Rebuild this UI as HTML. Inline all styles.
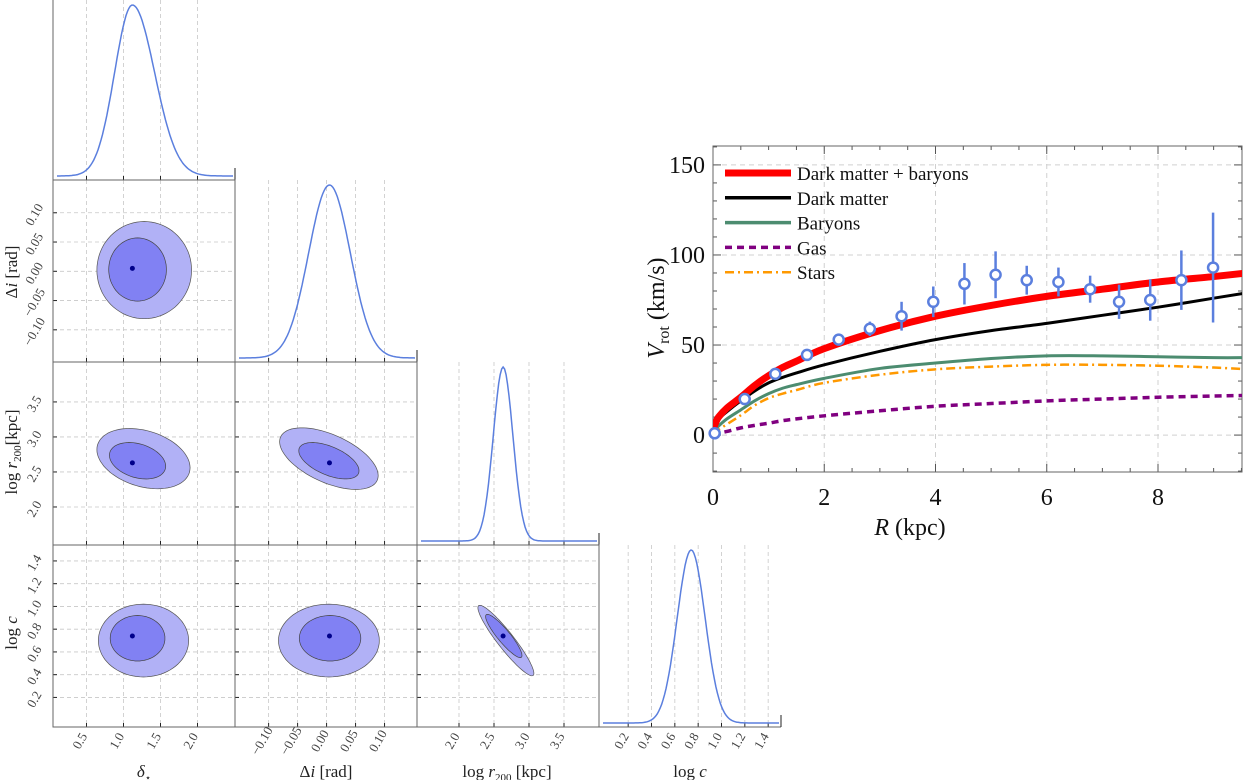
<!DOCTYPE html>
<html><head><meta charset="utf-8"><style>
html,body{margin:0;padding:0;background:#fff;}
svg{display:block;font-family:"Liberation Serif",serif;}
</style></head><body>
<svg id="fig" width="1243" height="780" viewBox="0 0 1243 780" xmlns="http://www.w3.org/2000/svg">
<g id="corner"></g>
<g id="rot"></g>
</svg>
<script>
// ===== Corner plot data =====
const paramNames = ["delta_star","delta_i","log_r200","log_c"];
const bestFit = [1.12, 0.005, 2.63, 0.74];
const margMean = [1.12, 0.005, 2.63, 0.74];
const margSigL = [0.24, 0.036, 0.14, 0.12];
const margSigR = [0.30, 0.036, 0.14, 0.12];
const tickVals0 = [0.5, 1.0, 1.5, 2.0];
const tickVals1 = [-0.10, -0.05, 0.00, 0.05, 0.10];
const tickVals2 = [2.0, 2.5, 3.0, 3.5];
const tickVals3 = [0.2, 0.4, 0.6, 0.8, 1.0, 1.2, 1.4];
const tickLabels0 = ["0.5","1.0","1.5","2.0"];
const tickLabels1 = ["\u22120.10","\u22120.05","0.00","0.05","0.10"];
const tickLabels2 = ["2.0","2.5","3.0","3.5"];
const tickLabels3 = ["0.2","0.4","0.6","0.8","1.0","1.2","1.4"];
// contours: [row, col, cx, cy, sx, sy, rho] (outer = 2 sigma, inner = 1 sigma)
const outerContours = [
 [1,0, 1.28,0.002, 0.64,0.083, 0.0],
 [2,0, 1.27,2.69, 0.63,0.43, -0.3],
 [2,1, 0.004,2.69, 0.085,0.44, -0.55],
 [3,0, 1.27,0.70, 0.61,0.32, 0.0],
 [3,1, 0.004,0.70, 0.087,0.32, 0.0],
 [3,2, 2.67,0.70, 0.40,0.31, -0.93]
];
const innerContours = [
 [1,0, 1.19,0.003, 0.39,0.054, 0.0],
 [2,0, 1.19,2.66, 0.38,0.26, -0.3],
 [2,1, 0.004,2.66, 0.052,0.26, -0.55],
 [3,0, 1.19,0.72, 0.37,0.20, 0.0],
 [3,1, 0.006,0.72, 0.053,0.20, 0.0],
 [3,2, 2.64,0.74, 0.26,0.19, -0.9]
];
// ===== Rotation curve data =====
const obsR = [0.03,0.57,1.12,1.69,2.26,2.82,3.39,3.96,4.52,5.08,5.64,6.21,6.78,7.30,7.86,8.42,8.99];
const obsV = [1,20,34,44.5,53,59,66,74,84,89,86,85,81,74,75,86,93];
const obsErr = [1,2,2,2,2,4,8,8.5,11.5,13,8,8,7.5,9.5,11.5,16.5,30.5];
const modelR = [0,0.05,0.1,0.25,0.5,0.75,1,1.25,1.5,2,3,4,5,6,7,8,9,9.6];
const vTotal = [3,7,10,15,21,27.5,33,37.5,41,48,58,66,72,77,81,85,88,90];
const vDM = [3,6.5,9,13,19,24.5,29,32,34.5,39,46.5,53,58,62,66.5,71,76,79];
const vBaryons = [1,3,5,9,14,19,23,26,28,31.5,37,40,42.5,44,44,43.5,43,43];
const vStars = [0.5,2,3,6,11,16.5,20.5,23,25,29,33.5,36.5,38,39,39,38.5,37.5,36.5];
const vGas = [0,0.5,1,2,4,5.4,6.6,8,9,10.7,13.5,16,17.5,19,20,21,21.7,22];
const xTicksR = [0,2,4,6,8];
const yTicksV = [0,50,100,150];
const legendLabels = ["Dark matter + baryons","Dark matter","Baryons","Gas","Stars"];

const NS="http://www.w3.org/2000/svg";
function mk(tag, attrs, parent){const e=document.createElementNS(NS,tag);for(const k in attrs)e.setAttribute(k,attrs[k]);if(parent)parent.appendChild(e);return e;}

// ---- corner geometry ----
const colX=[[53,235],[235,417],[417,599],[599,781]];
const rowY=[[0,180],[180,362],[362,545],[545,727]];
const xDom=[[0.047,2.507],[-0.158,0.156],[1.40,4.0],[-0.05,1.51]];
const yDom=[null,[-0.155,0.156],[1.457,4.07],[-0.06,1.54]];
const tickSets=[tickVals0,tickVals1,tickVals2,tickVals3];
const labelSets=[tickLabels0,tickLabels1,tickLabels2,tickLabels3];
function sx(c,v){const d=xDom[c],p=colX[c];return p[0]+(v-d[0])/(d[1]-d[0])*(p[1]-p[0]);}
function sy(r,v){const d=yDom[r],p=rowY[r];return p[1]-(v-d[0])/(d[1]-d[0])*(p[1]-p[0]);}

const corner=document.getElementById('corner');
for(let r=0;r<4;r++){for(let c=0;c<=r;c++){
  const g=mk('g',{},corner);
  
  
  const [x0,x1]=colX[c],[y0,y1]=rowY[r];
  tickSets[c].forEach(v=>{const x=sx(c,v);mk('line',{x1:x,x2:x,y1:y0,y2:y1,stroke:'#c8c8c8','stroke-width':0.8,'stroke-dasharray':'4,3'},g);
    mk('line',{x1:x,x2:x,y1:y1,y2:y1-4,stroke:'#222','stroke-width':1},g);});
  if(r!==c){tickSets[r].forEach(v=>{const y=sy(r,v);mk('line',{x1:x0,x2:x1,y1:y,y2:y,stroke:'#c8c8c8','stroke-width':0.8,'stroke-dasharray':'4,3'},g);
    mk('line',{x1:x0,x2:x0+4,y1:y,y2:y,stroke:'#222','stroke-width':1},g);});
    mk('rect',{x:x0,y:y0,width:x1-x0,height:y1-y0,fill:'none',stroke:'#666','stroke-width':1},g);
  } else {
    mk('line',{x1:x0,x2:x0,y1:y0,y2:y1,stroke:'#666','stroke-width':1},g);
    mk('line',{x1:x0,x2:x1,y1:y1,y2:y1,stroke:'#666','stroke-width':1},g);
    mk('line',{x1:x1,x2:x1,y1:y1,y2:y1-12,stroke:'#222','stroke-width':1},g);
    const base=y1-4, peak=y0+5; let d='';
    for(let i=0;i<=120;i++){const px=x0+4+(x1-2-x0-4)*i/120;const dm=xDom[c];const v=dm[0]+(px-colX[c][0])/(colX[c][1]-colX[c][0])*(dm[1]-dm[0]);
      const s=v<margMean[c]?margSigL[c]:margSigR[c];const f=Math.exp(-0.5*Math.pow((v-margMean[c])/s,2));
      d+=(i?'L':'M')+px.toFixed(1)+','+(base-(base-peak)*f).toFixed(1);}
    const p=mk('path',{d:d,fill:'none',stroke:'#5b7fde','stroke-width':1.5},g);
    
    
  }
}}
function ellipsePath(ct){const [r,c,cx,cy,ax,ay,rho]=ct;let d='';
  for(let i=0;i<=80;i++){const t=2*Math.PI*i/80;const vx=cx+ax*Math.cos(t);const vy=cy+ay*(rho*Math.cos(t)+Math.sqrt(1-rho*rho)*Math.sin(t));
    d+=(i?'L':'M')+sx(c,vx).toFixed(1)+','+sy(r,vy).toFixed(1);}return d+'Z';}
outerContours.forEach(ct=>{const p=mk('path',{d:ellipsePath(ct),fill:'#b1b1f6',stroke:'#555','stroke-width':0.7},corner);
  
  });
innerContours.forEach(ct=>{const p=mk('path',{d:ellipsePath(ct),fill:'#8181f3',stroke:'#444','stroke-width':0.7},corner);
  
  });
outerContours.forEach(ct=>{const [r,c]=ct;const p=mk('circle',{cx:sx(c,bestFit[c]),cy:sy(r,bestFit[r]),r:2.5,fill:'#00008b'},corner);
  
  });
for(let c=0;c<4;c++){tickSets[c].forEach((v,i)=>{const x=sx(c,v)-3,y=743;
  const t=mk('text',{x:x,y:y,'font-size':13,fill:'#444','text-anchor':'middle',transform:`rotate(-60 ${x} ${y})`},corner);t.textContent=labelSets[c][i];
  
  });}
for(let r=1;r<4;r++){tickSets[r].forEach((v,i)=>{const y=sy(r,v)+4,x=38;
  const t=mk('text',{x:x,y:y,'font-size':13,fill:'#444','text-anchor':'middle',transform:`rotate(-60 ${x} ${y})`},corner);t.textContent=labelSets[r][i];
  
  });}
const titles=[
 ['x-axis-title-delta-star',144,772,0,'<tspan font-style="italic">δ</tspan><tspan font-size="10" dy="4">⋆</tspan>'],
 ['x-axis-title-delta-i',326,772,0,'Δ<tspan font-style="italic">i</tspan> [rad]'],
 ['x-axis-title-log-r200',507,772,0,'log <tspan font-style="italic">r</tspan><tspan font-size="11" dy="4">200</tspan><tspan dy="-4">  [kpc]</tspan>'],
 ['x-axis-title-log-c',690,772,0,'log <tspan font-style="italic">c</tspan>'],
 ['y-axis-title-delta-i',12,272,-90,'Δ<tspan font-style="italic">i</tspan> [rad]'],
 ['y-axis-title-log-r200',12,452,-90,'log <tspan font-style="italic">r</tspan><tspan font-size="11" dy="4">200</tspan><tspan dy="-4">[kpc]</tspan>'],
 ['y-axis-title-log-c',12,633,-90,'log <tspan font-style="italic">c</tspan>']];
titles.forEach(([n,x,y,a,h])=>{const t=mk('text',{x:x,y:y+5,'font-size':17,fill:'#222','text-anchor':'middle',transform:`rotate(${a} ${x} ${y})`},corner);t.innerHTML=h;
  
  });

// ---- rotation curve ----
const rot=document.getElementById('rot');
const PX0=713,PX1=1242,PY0=146,PY1=472,XD=[0,9.51],YD=[-20.5,160.5];
function rx(v){return PX0+(v-XD[0])/(XD[1]-XD[0])*(PX1-PX0);}
function ry(v){return PY1-(v-YD[0])/(YD[1]-YD[0])*(PY1-PY0);}
xTicksR.forEach(v=>{mk('line',{x1:rx(v),x2:rx(v),y1:PY0,y2:PY1,stroke:'#d0d0d0','stroke-width':1,'stroke-dasharray':'5,4'},rot);});
yTicksV.forEach(v=>{mk('line',{x1:PX0,x2:PX1,y1:ry(v),y2:ry(v),stroke:'#d0d0d0','stroke-width':1,'stroke-dasharray':'5,4'},rot);});
for(let v=0;v<=9.5;v+=0.5){const big=Math.abs(v%2)<1e-6;const L=big?8:4;
  mk('line',{x1:rx(v),x2:rx(v),y1:PY1,y2:PY1-L,stroke:'#555'},rot);mk('line',{x1:rx(v),x2:rx(v),y1:PY0,y2:PY0+L,stroke:'#555'},rot);}
for(let v=-20;v<=160;v+=10){const big=v%50===0;const L=big?8:4;
  mk('line',{x1:PX0,x2:PX0+L,y1:ry(v),y2:ry(v),stroke:'#555'},rot);mk('line',{x1:PX1,x2:PX1-L,y1:ry(v),y2:ry(v),stroke:'#555'},rot);}
const fr=mk('rect',{x:PX0,y:PY0,width:PX1-PX0,height:PY1-PY0,fill:'none',stroke:'#666','stroke-width':1},rot);


xTicksR.forEach(v=>{const t=mk('text',{x:rx(v),y:505,'font-size':24,'text-anchor':'middle',fill:'#111'},rot);t.textContent=String(v);
  
  });
yTicksV.forEach(v=>{const t=mk('text',{x:PX0-8,y:ry(v)+8,'font-size':24,'text-anchor':'end',fill:'#111'},rot);t.textContent=String(v);
  
  });
let t=mk('text',{x:910,y:535,'font-size':24,'text-anchor':'middle',fill:'#111'},rot);t.innerHTML='<tspan font-style="italic">R</tspan> (kpc)';


t=mk('text',{x:664,y:308,'font-size':24,'text-anchor':'middle',fill:'#111',transform:'rotate(-90 664 308)'},rot);t.innerHTML='<tspan font-style="italic">V</tspan><tspan font-size="16" dy="5">rot</tspan><tspan dy="-5">  (km/s)</tspan>';


const clip=mk('clipPath',{id:'pc'},rot);mk('rect',{x:PX0,y:PY0,width:PX1-PX0,height:PY1-PY0},clip);
function curvePath(xs,ys){const P=xs.map((x,i)=>[rx(x),ry(ys[i])]);let d='M'+P[0][0]+','+P[0][1];
  for(let i=0;i<P.length-1;i++){const p0=P[Math.max(0,i-1)],p1=P[i],p2=P[i+1],p3=P[Math.min(P.length-1,i+2)];
    d+='C'+(p1[0]+(p2[0]-p0[0])/6)+','+(p1[1]+(p2[1]-p0[1])/6)+' '+(p2[0]-(p3[0]-p1[0])/6)+','+(p2[1]-(p3[1]-p1[1])/6)+' '+p2[0]+','+p2[1];}return d;}
const series=[
 ['curve-gas',vGas,'#800080',3.5,'7,5'],
 ['curve-stars',vStars,'#ff9900',2.5,'9,4,2,4'],
 ['curve-baryons',vBaryons,'#4c8c70',3,''],
 ['curve-dark-matter',vDM,'#000',3,''],
 ['curve-dark-matter-plus-baryons',vTotal,'#ff0000',7,'']];
const cg=mk('g',{'clip-path':'url(#pc)'},rot);
series.forEach(([n,ys,col,w,da])=>{const p=mk('path',{d:curvePath(modelR,ys),fill:'none',stroke:col,'stroke-width':w,'stroke-dasharray':da,'stroke-linejoin':'round'},cg);
  
  });
obsR.forEach((r,i)=>{const g=mk('g',{},rot);
  
  
  mk('line',{x1:rx(r),x2:rx(r),y1:ry(obsV[i]-obsErr[i]),y2:ry(obsV[i]+obsErr[i]),stroke:'#5b7fde','stroke-width':2.5},g);
  mk('circle',{cx:rx(r),cy:ry(obsV[i]),r:5,fill:'#fff',stroke:'#5b7fde','stroke-width':2.5},g);});
const legStyles=[['#ff0000',7,''],['#000',3.5,''],['#4c8c70',3.5,''],['#800080',3.5,'7,5'],['#ff9900',2.5,'9,4,2,4']];
legendLabels.forEach((lab,i)=>{const y=173+i*24.8;const g=mk('g',{},rot);
  
  
  mk('line',{x1:725,x2:791,y1:y,y2:y,stroke:legStyles[i][0],'stroke-width':legStyles[i][1],'stroke-dasharray':legStyles[i][2]},g);
  const tt=mk('text',{x:797,y:y+7,'font-size':19,fill:'#111'},g);tt.textContent=lab;});
</script>
</body></html>
